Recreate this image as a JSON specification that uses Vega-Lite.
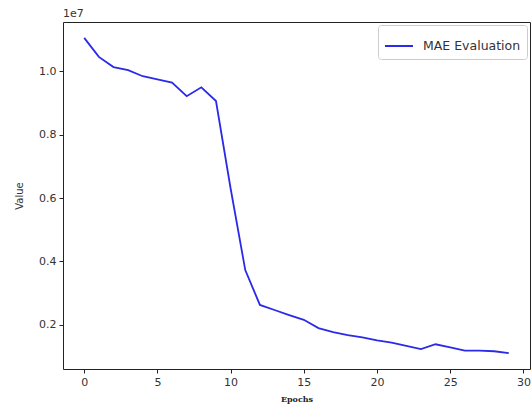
{
  "$schema": "https://vega.github.io/schema/vega-lite/v6.json",
  "width": 467,
  "height": 347,
  "autosize": {"type": "none"},
  "padding": {"left": 63, "top": 22, "right": 2, "bottom": 45},
  "background": "white",
  "title": {"text": "1e7", "anchor": "start", "frame": "group", "fontSize": 11, "fontWeight": "normal", "font": "DejaVu Sans", "color": "#333", "offset": 3},
  "config": {
    "view": {"stroke": "#222", "strokeWidth": 1},
    "axis": {"grid": false, "domain": false, "tickColor": "#222", "tickSize": 4, "labelFont": "DejaVu Sans", "labelFontSize": 11, "labelColor": "#333", "labelPadding": 3}
  },
  "data": {"values": [
    {"epoch": 0, "value": 11050000},
    {"epoch": 1, "value": 10450000},
    {"epoch": 2, "value": 10130000},
    {"epoch": 3, "value": 10030000},
    {"epoch": 4, "value": 9840000},
    {"epoch": 5, "value": 9740000},
    {"epoch": 6, "value": 9640000},
    {"epoch": 7, "value": 9210000},
    {"epoch": 8, "value": 9490000},
    {"epoch": 9, "value": 9060000},
    {"epoch": 10, "value": 6300000},
    {"epoch": 11, "value": 3730000},
    {"epoch": 12, "value": 2630000},
    {"epoch": 13, "value": 2470000},
    {"epoch": 14, "value": 2310000},
    {"epoch": 15, "value": 2160000},
    {"epoch": 16, "value": 1900000},
    {"epoch": 17, "value": 1770000},
    {"epoch": 18, "value": 1680000},
    {"epoch": 19, "value": 1610000},
    {"epoch": 20, "value": 1510000},
    {"epoch": 21, "value": 1440000},
    {"epoch": 22, "value": 1340000},
    {"epoch": 23, "value": 1240000},
    {"epoch": 24, "value": 1390000},
    {"epoch": 25, "value": 1290000},
    {"epoch": 26, "value": 1190000},
    {"epoch": 27, "value": 1190000},
    {"epoch": 28, "value": 1170000},
    {"epoch": 29, "value": 1110000}
  ]},
  "mark": {"type": "line", "strokeWidth": 1.8},
  "encoding": {
    "x": {"field": "epoch", "type": "quantitative",
      "scale": {"domain": [-1.45, 30.45], "nice": false, "zero": false},
      "axis": {"values": [0, 5, 10, 15, 20, 25, 30], "title": "Epochs", "titleFont": "DejaVu Serif", "titleFontSize": 8, "titleFontWeight": "bold", "titleColor": "#222", "titlePadding": 8}},
    "y": {"field": "value", "type": "quantitative",
      "scale": {"domain": [610000, 11550000], "nice": false, "zero": false},
      "axis": {"values": [2000000, 4000000, 6000000, 8000000, 10000000], "labelExpr": "format(datum.value / 10000000, '.1f')", "title": "Value", "titleFont": "DejaVu Sans", "titleFontSize": 10, "titleFontWeight": "normal", "titleColor": "#333", "titlePadding": 14}},
    "color": {"datum": "MAE Evaluation", "type": "nominal",
      "scale": {"range": ["#2a2ae8"]},
      "legend": {"title": null, "orient": "top-right", "offset": 3, "symbolType": "stroke", "symbolSize": 784, "symbolStrokeWidth": 2, "labelOffset": 9, "labelFont": "DejaVu Sans", "labelFontSize": 12.5, "labelColor": "#333", "strokeColor": "#ccc", "fillColor": "white", "padding": 6, "cornerRadius": 3}}
  }
}
